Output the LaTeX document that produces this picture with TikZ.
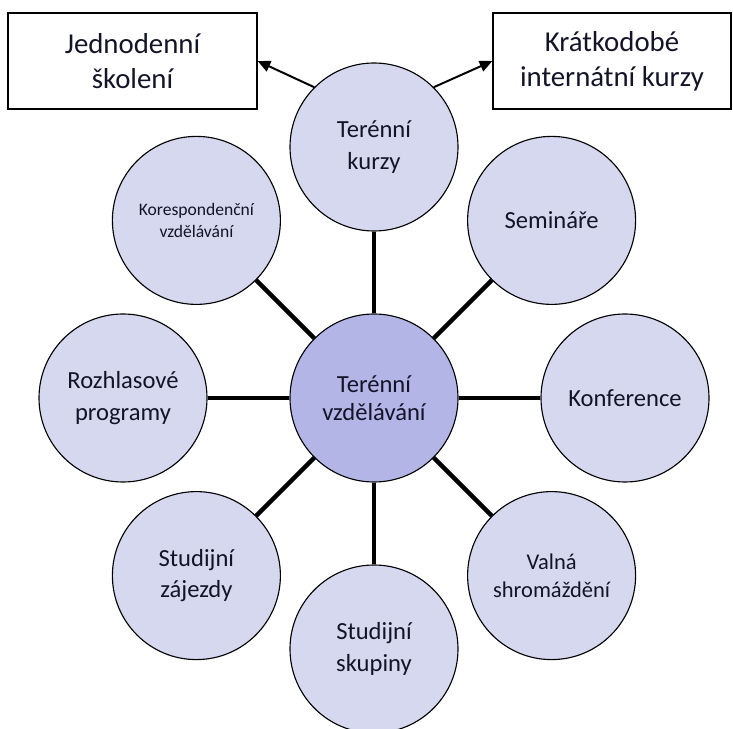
\documentclass[tikz,border=0pt]{standalone}
\usepackage{fontspec}
\setmainfont{Carlito}
\usetikzlibrary{arrows.meta}
\definecolor{ringfill}{RGB}{214,216,240}
\definecolor{hubfill}{RGB}{178,181,230}
\definecolor{labeltext}{RGB}{20,20,40}

\begin{document}
\begin{tikzpicture}[
    outer/.style={circle, draw, line width=0.8pt, fill=ringfill, minimum size=4.2cm, inner sep=0pt, align=center, text=labeltext, font=\fontsize{17.5}{22.5}\selectfont},
    hub/.style={outer, fill=hubfill},
    sidebox/.style={draw, line width=0.9pt, minimum height=2.4cm, align=center, text=labeltext, font=\fontsize{20.5}{25}\selectfont},
    spoke/.style={line width=3.2pt},
    arrow/.style={-{Triangle[length=9pt,width=8pt]}, line width=1.4pt}
]
            \useasboundingbox (0, 0) rectangle (18.325, -18.225);

            \node[sidebox, minimum width=6.225cm] (jedno) at (3.3125, -1.525) {Jednodenní\\školení};
            \node[sidebox, minimum width=5.95cm] (kratko) at (15.3, -1.525) {Krátkodobé\\internátní kurzy};

            \node[hub, font=\fontsize{17.5}{19.5}\selectfont] (centre) at (9.35, -9.95) {Terénní\\vzdělávání};

            \node[outer] (kurzy) at (9.35, -3.675) {Terénní\\kurzy};
            \node[outer] (seminare) at (13.79, -5.51) {Semináře};
            \node[outer] (konference) at (15.625, -9.95) {Konference};
            \node[outer, font=\fontsize{16}{19.5}\selectfont] (valna) at (13.79, -14.39) {Valná\\shromáždění};
            \node[outer] (skupiny) at (9.35, -16.225) {Studijní\\skupiny};
            \node[outer] (zajezdy) at (4.91, -14.39) {Studijní\\zájezdy};
            \node[outer] (rozhlas) at (3.075, -9.95) {Rozhlasové\\programy};
            \node[outer, font=\fontsize{12.5}{15.5}\selectfont] (koresp) at (4.91, -5.51) {Korespondenční\\vzdělávání};

            \draw[spoke] (centre) -- (kurzy);
            \draw[spoke] (centre) -- (seminare);
            \draw[spoke] (centre) -- (konference);
            \draw[spoke] (centre) -- (valna);
            \draw[spoke] (centre) -- (skupiny);
            \draw[spoke] (centre) -- (zajezdy);
            \draw[spoke] (centre) -- (rozhlas);
            \draw[spoke] (centre) -- (koresp);

            \draw[arrow] (kurzy.135) -- (jedno.east);
            \draw[arrow] (kurzy.45) -- (kratko.west);
        \end{tikzpicture}
\end{document}
